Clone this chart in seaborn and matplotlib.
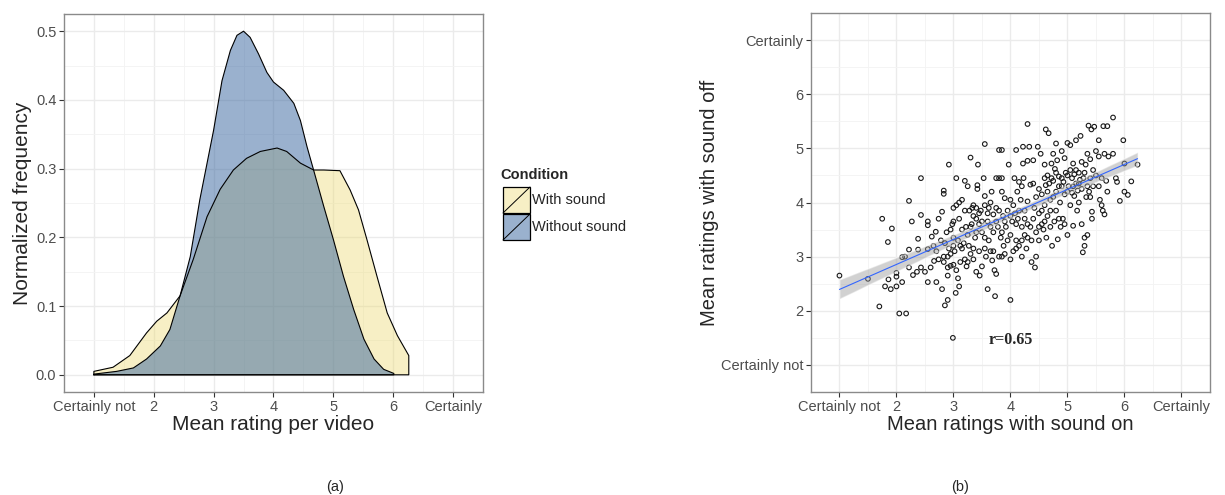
import numpy as np
import pandas as pd
import matplotlib
matplotlib.use("Agg")
import matplotlib.pyplot as plt
import seaborn as sns
from matplotlib.patches import Rectangle
from matplotlib.lines import Line2D
from matplotlib.ticker import MultipleLocator

# ---- panel (a): density outlines ----
with_x = [1.0, 1.32, 1.6, 1.88, 2.05, 2.22, 2.44, 2.66, 2.89, 3.11, 3.33, 3.55, 3.78,
          4.06, 4.22, 4.45, 4.67, 4.84, 5.11, 5.28, 5.42, 5.56, 5.73, 5.9, 6.07, 6.26]
with_y = [0.005, 0.011, 0.028, 0.061, 0.078, 0.09, 0.115, 0.168, 0.23, 0.27, 0.298, 0.315, 0.325,
          0.33, 0.325, 0.308, 0.298, 0.298, 0.297, 0.269, 0.24, 0.197, 0.143, 0.09, 0.057, 0.028]
without_x = [1.0, 1.38, 1.66, 1.88, 2.11, 2.27, 2.44, 2.61, 2.77, 3.0, 3.14, 3.28, 3.39, 3.5,
             3.61, 3.75, 3.89, 4.0, 4.17, 4.34, 4.45, 4.56, 4.67, 4.84, 5.0, 5.17, 5.34,
             5.51, 5.68, 5.84, 6.01]
without_y = [0.001, 0.005, 0.01, 0.023, 0.042, 0.066, 0.115, 0.172, 0.255, 0.356, 0.428, 0.472,
             0.494, 0.5, 0.491, 0.467, 0.44, 0.426, 0.414, 0.395, 0.37, 0.332, 0.298, 0.245,
             0.197, 0.143, 0.095, 0.052, 0.023, 0.008, 0.002]

rating_ticks = [1, 2, 3, 4, 5, 6, 7]
rating_labels = ["Certainly not", "2", "3", "4", "5", "6", "Certainly"]
freq_ticks = [0.0, 0.1, 0.2, 0.3, 0.4, 0.5]

# ---- panel (b): mean rating per video, sound on vs sound off ----
sound_on = [
    1.0, 1.5, 1.7, 1.75, 1.85, 1.92, 1.8, 1.9, 1.86, 2.0,
    2.0, 2.0, 2.05, 2.17, 2.1, 2.15, 2.1, 2.22, 2.22, 2.22,
    2.27, 2.29, 2.36, 2.38, 2.38, 2.43, 2.43, 2.43, 2.5, 2.55,
    2.55, 2.55, 2.55, 2.62, 2.66, 2.69, 2.7, 2.74, 2.74, 2.8,
    2.8, 2.83, 2.83, 2.83, 2.83, 2.85, 2.85, 2.9, 2.9, 2.9,
    2.92, 2.92, 2.95, 2.95, 2.99, 3.0, 3.0, 3.0, 3.0, 3.04,
    3.05, 3.05, 3.05, 3.08, 3.08, 3.1, 3.1, 3.12, 3.15, 3.15,
    3.18, 3.2, 3.2, 3.22, 3.23, 3.25, 3.27, 3.28, 3.3, 3.3,
    3.32, 3.33, 3.35, 3.35, 3.38, 3.4, 3.4, 3.4, 3.42, 3.42,
    3.43, 3.45, 3.45, 3.46, 3.48, 3.5, 3.5, 3.53, 3.55, 3.55,
    3.55, 3.57, 3.6, 3.6, 3.62, 3.62, 3.65, 3.67, 3.68, 3.7,
    3.7, 3.72, 3.73, 3.75, 3.75, 3.75, 3.78, 3.8, 3.8, 3.8,
    3.83, 3.85, 3.85, 3.85, 3.87, 3.88, 3.9, 3.9, 3.92, 3.95,
    3.97, 4.0, 4.0, 4.0, 4.0, 4.03, 4.05, 4.07, 4.08, 4.1,
    4.1, 4.12, 4.13, 4.15, 4.15, 4.18, 4.2, 4.2, 4.22, 4.22,
    4.23, 4.25, 4.25, 4.28, 4.3, 4.3, 4.3, 4.3, 4.33, 4.35,
    4.37, 4.37, 4.4, 4.4, 4.42, 4.43, 4.45, 4.45, 4.48, 4.5,
    4.5, 4.5, 4.53, 4.55, 4.55, 4.58, 4.6, 4.6, 4.62, 4.63,
    4.65, 4.65, 4.67, 4.68, 4.7, 4.7, 4.72, 4.73, 4.75, 4.75,
    4.77, 4.8, 4.8, 4.8, 4.82, 4.83, 4.85, 4.87, 4.88, 4.9,
    4.9, 4.92, 4.95, 4.97, 5.0, 5.0, 5.02, 5.05, 5.05, 5.08,
    5.1, 5.1, 5.12, 5.15, 5.15, 5.17, 5.2, 5.2, 5.23, 5.25,
    5.25, 5.27, 5.28, 5.3, 5.3, 5.32, 5.33, 5.35, 5.35, 5.37,
    5.38, 5.4, 5.4, 5.42, 5.43, 5.43, 5.45, 5.47, 5.5, 5.55,
    5.55, 5.57, 5.6, 5.6, 5.62, 5.63, 5.65, 5.65, 5.68, 5.7,
    5.7, 5.72, 5.8, 5.8, 5.85, 5.87, 5.92, 5.98, 6.0, 6.0,
    6.06, 6.12, 6.23,
    3.1, 3.15, 3.2, 3.25, 3.3, 3.35, 3.4, 3.45, 3.5, 3.55,
    3.6, 3.65, 3.7, 3.75, 3.8, 3.85, 3.9, 3.95, 4.0, 4.05,
    4.1, 4.15, 4.2, 4.25, 4.3, 4.35, 4.4, 4.45, 4.5, 4.55,
    4.6, 4.65, 4.7, 4.75, 4.8, 4.85, 4.9, 4.95, 5.0, 5.05,
    5.1, 5.15, 5.2, 5.25, 5.3, 5.35, 5.4, 5.45, 5.5, 5.55,
    4.62, 4.72, 4.78, 4.85, 4.93, 5.0, 5.08, 5.12, 5.18, 5.22,
    2.95, 3.02, 3.12, 3.25, 3.35, 3.55, 3.65, 3.85, 4.1, 4.2,
    2.6, 2.7, 2.78, 2.88, 2.98, 2.65, 2.9, 3.0, 4.6, 4.95,
]
sound_off = [
    2.65, 2.59, 2.08, 3.7, 3.27, 3.52, 2.45, 2.4, 2.58, 2.45,
    2.7, 2.63, 1.95, 1.95, 2.99, 3.0, 2.53, 4.03, 3.13, 2.8,
    3.65, 2.66, 2.72, 3.33, 3.13, 4.45, 3.77, 2.8, 2.72, 3.65,
    3.58, 3.14, 2.53, 3.37, 2.92, 3.46, 2.53, 3.7, 2.95, 3.83,
    2.4, 4.22, 4.16, 3.0, 2.9, 3.25, 2.1, 2.2, 2.8, 2.65,
    4.7, 3.15, 2.83, 3.5, 1.5, 2.85, 3.35, 3.65, 3.9, 2.33,
    2.75, 4.45, 3.95, 3.3, 2.6, 2.45, 4.0, 3.2, 4.05, 3.15,
    3.25, 4.4, 2.95, 3.55, 2.82, 4.3, 3.2, 3.85, 4.83, 3.05,
    3.6, 3.9, 3.75, 3.15, 3.35, 3.9, 3.7, 2.72, 4.32, 4.25,
    4.7, 3.6, 3.1, 2.65, 3.85, 2.82, 3.45, 4.45, 5.08, 3.95,
    4.12, 3.0, 3.65, 2.4, 3.9, 3.3, 3.55, 4.2, 2.93, 3.78,
    3.1, 2.75, 2.27, 4.45, 3.9, 2.68, 3.55, 4.97, 4.45, 3.0,
    3.35, 4.97, 4.45, 4.2, 3.75, 3.2, 4.08, 3.05, 3.55, 3.85,
    4.7, 2.2, 4.05, 3.4, 2.95, 3.65, 3.1, 4.45, 3.8, 4.97,
    3.3, 4.2, 3.7, 4.38, 3.2, 4.05, 3.55, 3.0, 5.03, 4.72,
    4.45, 3.85, 3.4, 3.15, 5.45, 4.77, 4.02, 3.6, 5.03, 4.33,
    3.3, 2.9, 4.78, 4.35, 3.9, 2.8, 3.45, 3.0, 5.03, 4.25,
    3.8, 3.3, 4.9, 4.15, 3.6, 3.5, 4.45, 3.95, 5.35, 3.35,
    4.5, 3.75, 5.28, 4.35, 4.05, 3.55, 4.72, 3.2, 4.9, 4.4,
    3.65, 5.09, 4.55, 3.85, 4.78, 3.32, 4.3, 4.0, 3.55, 4.95,
    4.45, 3.7, 4.15, 4.55, 5.1, 3.4, 4.3, 5.06, 3.95, 4.45,
    4.72, 3.57, 4.12, 5.15, 4.35, 3.85, 4.55, 4.0, 5.23, 3.6,
    4.25, 3.08, 4.45, 3.2, 3.35, 4.7, 4.1, 4.9, 3.4, 5.42,
    4.2, 4.45, 4.8, 5.35, 3.83, 3.7, 4.6, 5.4, 4.95, 5.15,
    4.85, 4.05, 4.45, 3.95, 3.85, 5.41, 4.9, 3.78, 4.4, 5.41,
    4.2, 4.85, 5.57, 4.9, 4.45, 4.38, 4.03, 5.15, 4.72, 4.2,
    4.14, 4.39, 4.7,
    3.7, 3.5, 3.85, 3.4, 3.55, 3.95, 3.45, 3.8, 3.65, 3.35,
    3.8, 4.0, 3.45, 3.65, 3.85, 3.45, 3.65, 3.3, 3.75, 3.95,
    3.6, 3.85, 4.3, 3.7, 3.35, 3.55, 3.7, 4.1, 3.55, 3.85,
    3.65, 4.2, 3.85, 4.1, 4.2, 3.7, 4.3, 3.6, 4.2, 4.6,
    4.3, 4.6, 4.35, 4.75, 4.55, 4.3, 4.1, 4.3, 4.5, 4.3,
    4.32, 4.45, 4.62, 4.48, 4.38, 4.5, 4.18, 4.52, 4.22, 4.42,
    3.05, 3.1, 2.9, 2.9, 2.95, 3.15, 3.1, 3.0, 3.15, 3.3,
    2.8, 3.1, 3.3, 3.45, 3.6, 3.2, 3.0, 3.2, 4.7, 4.82,
]
r_label = "r=0.65"

scatter_df = pd.DataFrame({"on": sound_on, "off": sound_off})

# ---- styling ----
sns.set_theme(style="whitegrid")
plt.rcParams["font.family"] = ["Liberation Sans", "DejaVu Sans"]

YELLOW = "#EBD96E"
BLUE = "#36649F"
GRID = "#EBEBEB"
BORDER = "#8A8A8A"
TICKC = "#4D4D4D"

fig = plt.figure(figsize=(12.25, 4.95), dpi=100)
ax1 = fig.add_axes([0.0522, 0.2081, 0.3421, 0.7636])
ax2 = fig.add_axes([0.662, 0.2081, 0.3257, 0.7656])


def style_axes(ax):
    ax.set_facecolor("white")
    for s in ax.spines.values():
        s.set_color(BORDER)
        s.set_linewidth(1.0)
    ax.grid(which="major", color=GRID, lw=1.0)
    ax.grid(which="minor", color="#F3F3F3", lw=0.6)
    ax.set_axisbelow(True)
    ax.tick_params(which="major", length=3.5, width=0.8, color="#333333",
                   labelsize=10.5, labelcolor=TICKC, pad=2, bottom=True, left=True)
    ax.tick_params(which="minor", length=0)


# panel (a)
ax1.fill_between(with_x, with_y, 0, facecolor=YELLOW, alpha=0.4, edgecolor="none")
ax1.fill_between(without_x, without_y, 0, facecolor=BLUE, alpha=0.5, edgecolor="none")
for xs, ys in [(with_x, with_y), (without_x, without_y)]:
    ax1.plot([xs[0]] + xs + [xs[-1], xs[0]], [0] + ys + [0, 0], color="black", lw=0.8)

ax1.set_xlim(0.5, 7.5)
ax1.set_ylim(-0.025, 0.525)
ax1.set_xticks(rating_ticks)
ax1.set_xticklabels(rating_labels)
ax1.set_yticks(freq_ticks)
ax1.set_yticklabels([f"{v:.1f}" for v in freq_ticks])
ax1.xaxis.set_minor_locator(MultipleLocator(0.5))
ax1.yaxis.set_minor_locator(MultipleLocator(0.05))
style_axes(ax1)
ax1.set_xlabel("Mean rating per video", fontsize=15, labelpad=1)
ax1.set_ylabel("Normalized frequency", fontsize=15, labelpad=3)

# legend drawn by hand to mimic ggplot keys
fig.text(500 / 1225, 1 - 175 / 495, "Condition", fontsize=10.5, fontweight="bold",
         ha="left", va="center")
for i, (lab, col, a) in enumerate([("With sound", YELLOW, 0.4), ("Without sound", BLUE, 0.5)]):
    y0 = 1 - (213 + 27 * i) / 495
    h = 26 / 495
    x0 = 503 / 1225
    w = 27 / 1225
    fig.patches.append(Rectangle((x0, y0), w, h, transform=fig.transFigure,
                                 facecolor=col, alpha=a, edgecolor="none"))
    fig.patches.append(Rectangle((x0, y0), w, h, transform=fig.transFigure,
                                 facecolor="none", edgecolor="black", lw=0.9))
    fig.lines.append(Line2D([x0, x0 + w], [y0, y0 + h], transform=fig.transFigure,
                            color="black", lw=0.7))
    fig.text(x0 + w + 2 / 1225, y0 + h / 2, lab, fontsize=10.5, ha="left", va="center")

# panel (b)
sns.scatterplot(data=scatter_df, x="on", y="off", ax=ax2, marker="o", s=11,
                facecolor="none", edgecolor="#1a1a1a", linewidth=0.8, zorder=3)
sns.regplot(data=scatter_df, x="on", y="off", ax=ax2, scatter=False, color="#999999",
            seed=0, line_kws={"lw": 0.8})
ax2.lines[-1].set_color("#3366FF")
ax2.lines[-1].set_zorder(5)
band = ax2.collections[-1]
band.set_facecolor("#999999")
band.set_alpha(0.45)
band.set_zorder(4)

ax2.text(4.0, 1.46, r_label, family=["Liberation Serif", "DejaVu Serif"],
         fontweight="bold", fontsize=11.5, ha="center", va="center")

ax2.set_xlim(0.5, 7.5)
ax2.set_ylim(0.5, 7.5)
ax2.set_xticks(rating_ticks)
ax2.set_xticklabels(rating_labels)
ax2.set_yticks(rating_ticks)
ax2.set_yticklabels(rating_labels)
ax2.xaxis.set_minor_locator(MultipleLocator(0.5))
ax2.yaxis.set_minor_locator(MultipleLocator(0.5))
style_axes(ax2)
ax2.set_xlabel("Mean ratings with sound on", fontsize=14.5, labelpad=1)
ax2.set_ylabel("Mean ratings with sound off", fontsize=14.5, labelpad=1)

fig.text(335 / 1225, 1 - 487 / 495, "(a)", fontsize=10.5, ha="center", va="center")
fig.text(960 / 1225, 1 - 487 / 495, "(b)", fontsize=10.5, ha="center", va="center")

fig.savefig("out.png", dpi=100, facecolor="white")
